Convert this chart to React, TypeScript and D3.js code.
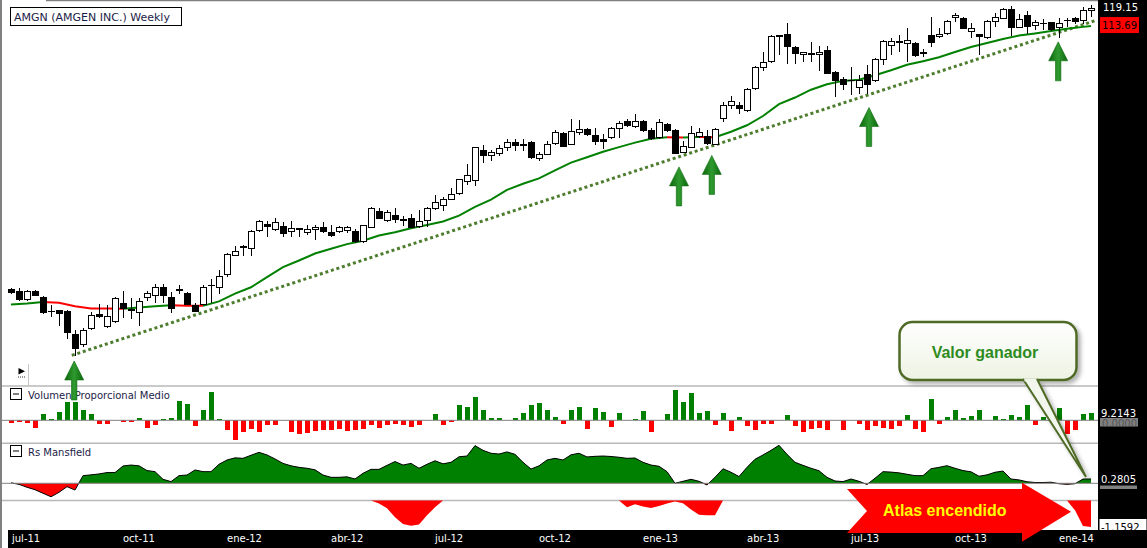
import React from 'react';
import * as d3 from 'd3';

// weekly candles, jul-11 .. ene-14
const opens = [
  57.1, 56.8, 55.6, 56.9, 56.0, 54.0, 54.1, 54.0, 50.8, 49.5,
  51.6, 53.5, 51.8, 52.5, 55.1, 54.2, 53.8, 56.0, 56.2, 57.5,
  56.0, 57.1, 56.6, 54.8, 55.0, 57.7, 57.5, 59.4, 62.5, 64.0,
  63.6, 66.6, 67.7, 66.8, 67.4, 66.5, 67.0, 66.3, 66.8, 67.2,
  66.3, 66.4, 66.7, 66.5, 64.7, 67.2, 70.1, 68.4, 69.3, 68.6,
  68.8, 67.3, 68.5, 70.6, 71.2, 72.3, 73.5, 75.8, 75.9, 82.1,
  81.1, 81.5, 82.8, 83.8, 83.3, 83.9, 80.4, 81.3, 83.6, 85.9,
  83.5, 86.1, 86.8, 85.4, 84.6, 84.9, 87.0, 88.5, 87.4, 88.7,
  86.6, 84.9, 87.9, 86.6, 81.7, 82.8, 85.3, 85.3, 83.5, 89.2,
  92.3, 92.4, 91.2, 96.6, 102.0, 103.6, 110.7, 111.2, 107.5, 105.6,
  105.6, 105.6, 106.7, 100.8, 98.9, 98.6, 96.9, 100.3, 98.6, 104.2,
  108.1, 109.1, 108.6, 108.6, 106.1, 110.8, 110.6, 111.5, 116.3, 116.0,
  112.0, 111.2, 110.3, 115.2, 116.1, 118.8, 113.4, 116.9, 113.8, 114.5,
  114.8, 113.3, 115.4, 116.0, 115.3, 118.5,
];
const highs = [
  57.4, 57.4, 57.1, 57.0, 56.2, 54.8, 54.2, 54.1, 51.4, 51.6,
  53.8, 55.0, 54.8, 56.0, 56.9, 55.9, 55.9, 56.9, 58.0, 58.0,
  56.8, 57.8, 56.8, 55.1, 57.8, 58.7, 60.1, 62.9, 64.0, 64.1,
  66.7, 68.5, 68.3, 68.8, 68.1, 68.3, 67.1, 67.7, 67.6, 68.1,
  67.6, 67.4, 67.4, 66.9, 67.7, 70.9, 70.7, 70.3, 70.6, 69.2,
  69.6, 70.3, 70.9, 73.1, 72.7, 74.4, 76.3, 79.2, 82.9, 83.3,
  82.2, 83.3, 84.6, 84.6, 84.6, 84.1, 81.9, 84.1, 86.6, 86.1,
  89.1, 88.9, 87.1, 87.1, 85.8, 87.4, 88.7, 89.1, 90.3, 88.9,
  87.1, 89.1, 88.3, 86.8, 84.2, 87.5, 87.1, 86.6, 87.0, 93.3,
  94.6, 93.3, 96.6, 102.4, 106.2, 111.2, 111.0, 114.6, 107.9, 106.3,
  109.1, 107.9, 107.9, 101.0, 99.4, 102.2, 100.0, 102.7, 104.5, 109.6,
  110.2, 111.0, 113.0, 109.1, 107.0, 116.3, 113.0, 115.5, 117.7, 116.5,
  114.7, 111.5, 115.5, 117.5, 119.1, 119.8, 117.3, 118.2, 115.5, 115.8,
  115.0, 116.0, 116.0, 116.5, 119.4, 120.1,
];
const lows = [
  56.5, 55.4, 55.5, 56.1, 53.6, 53.2, 51.9, 50.2, 48.0, 49.2,
  51.4, 53.0, 51.7, 52.3, 53.0, 52.9, 52.0, 55.5, 55.1, 55.1,
  53.7, 56.4, 54.9, 54.0, 54.9, 55.1, 56.5, 59.1, 62.4, 62.3,
  62.3, 66.4, 65.6, 66.5, 65.5, 65.6, 65.6, 65.9, 65.1, 66.3,
  65.5, 66.2, 66.3, 64.5, 64.5, 67.0, 68.6, 68.2, 68.0, 67.4,
  67.0, 67.1, 67.2, 70.3, 70.2, 72.2, 73.1, 75.0, 74.9, 79.4,
  79.9, 81.0, 82.1, 82.1, 82.1, 80.4, 79.9, 81.2, 83.4, 82.9,
  83.4, 85.6, 85.4, 83.3, 82.5, 84.7, 84.9, 87.4, 87.2, 86.1,
  84.4, 84.7, 86.2, 81.3, 81.5, 82.6, 84.8, 83.4, 83.3, 88.5,
  91.6, 90.3, 90.9, 96.2, 101.1, 103.1, 105.4, 103.0, 103.0, 103.5,
  103.5, 101.1, 100.3, 94.4, 96.2, 95.0, 95.3, 95.2, 98.3, 102.7,
  105.4, 106.3, 103.5, 104.9, 104.8, 107.5, 110.1, 111.0, 114.9, 112.9,
  110.3, 105.5, 110.0, 113.5, 115.9, 110.7, 113.2, 111.5, 112.5, 112.5,
  112.3, 110.1, 113.5, 114.4, 114.2, 116.5,
];
const closes = [
  56.7, 55.7, 56.9, 56.2, 53.8, 53.9, 53.6, 51.1, 49.0, 51.3,
  53.4, 53.3, 53.2, 55.8, 54.4, 54.1, 55.3, 56.5, 57.5, 56.2,
  54.3, 57.1, 55.0, 54.0, 57.4, 57.8, 59.1, 62.6, 63.1, 63.7,
  66.5, 68.3, 67.3, 68.1, 66.1, 67.0, 67.0, 66.8, 67.2, 66.5,
  65.7, 67.1, 67.2, 64.7, 67.5, 70.5, 68.8, 69.9, 68.6, 68.6,
  67.1, 68.2, 70.6, 71.7, 72.3, 73.2, 76.1, 76.9, 82.8, 81.1,
  81.7, 82.5, 83.9, 83.3, 83.4, 80.6, 81.3, 83.5, 86.1, 83.1,
  86.3, 86.8, 85.6, 84.2, 84.0, 87.1, 88.2, 87.6, 88.7, 86.5,
  84.7, 88.4, 86.5, 81.6, 82.9, 85.9, 86.2, 83.6, 86.7, 92.4,
  93.3, 91.6, 96.4, 102.0, 103.4, 110.7, 110.8, 107.7, 105.8, 106.2,
  105.7, 106.0, 100.5, 98.7, 97.6, 98.7, 98.7, 97.6, 104.2, 109.2,
  109.3, 109.2, 109.6, 105.2, 106.0, 108.9, 111.3, 115.1, 117.0, 113.1,
  112.9, 110.6, 115.0, 116.3, 118.8, 113.4, 115.8, 113.6, 114.8, 114.6,
  112.7, 114.5, 115.5, 115.0, 118.5, 119.15,
];

// moving average, read every second week (last point = last week)
const maValues = [
  54.95, 55.09, 55.31, 55.17, 54.67, 54.38, 54.35, 54.34, 54.52, 54.67,
  54.83, 54.76, 54.74, 55.38, 56.51, 57.46, 59.01, 60.58, 61.62, 62.76,
  63.54, 64.32, 64.88, 65.79, 66.35, 67.05, 67.61, 68.23, 69.3, 70.89,
  72.25, 74.1, 75.31, 76.38, 78.0, 79.58, 80.71, 81.88, 82.87, 83.85,
  84.7, 85.03, 84.95, 85.08, 85.03, 86.26, 87.74, 89.88, 92.73, 94.33,
  96.28, 97.67, 98.52, 98.82, 99.98, 101.3, 102.78, 103.73, 104.78, 106.24,
  107.62, 108.75, 109.89, 110.89, 111.53, 112.21, 112.9, 113.45, 113.69,
];

const volumeValues = [
  -2.9, -2.1, -2.9, -9.2, 8.5, 2.1, 10.5, 23.1, 23.1, 13.5,
  8.5, -4.2, -5.0, 0, -1.6, -1.6, 2.9, -9.2, -5.4, 1.6,
  2.9, 24.4, 21.1, -6.7, 13.5, 35.7, 1.6, -11.7, -24.9, -14.8,
  -10.5, -14.8, -5.4, -5.4, 0, -14.8, -17.7, -15.5, -13.5, -12.2,
  -12.2, -10.5, -13.5, -12.2, -10.5, -5.4, -9.2, -5.4, -4.2, -5.4,
  -8.0, -5.4, 0, 8.5, -5.4, -1.6, 19.3, 16.8, 29.4, 13.0,
  2.9, 2.9, 0, 2.9, 9.2, 19.3, 21.8, 13.0, 4.2, -4.2,
  13.0, 16.8, -10.5, 15.5, 10.5, -8.0, 9.2, 0, 1.6, 11.7,
  -14.3, 0, 8.0, 38.2, 23.1, 34.5, 9.2, 11.7, -5.4, 9.2,
  -13.0, 4.2, -6.7, -11.7, -4.2, -4.2, 0, 6.7, -6.7, -14.3,
  -10.5, -9.2, -11.7, 0, -11.7, 0, -4.2, -11.7, -6.7, -9.2,
  -10.5, -6.7, 6.7, -10.5, -14.3, 26.9, -4.2, 4.2, 13.0, 2.9,
  5.4, 13.0, 0, 5.4, 1.6, 6.7, 4.2, 19.3, -5.4, 4.2,
  9.2, 15.5, -17.7, -11.7, 8.0, 9.2143,
];

const mansfieldValues = [
  0.03, -0.07, -0.26, -0.42, -0.65, -0.88, -0.59, -0.22, -0.44, 0.5,
  0.55, 0.61, 0.7, 0.7, 1.13, 1.19, 1.14, 0.83, 0.76, 0.26,
  0.11, 0.5, 0.54, 0.87, 0.76, 0.76, 1.24, 1.52, 1.66, 1.63,
  1.83, 2.02, 1.85, 1.59, 1.3, 1.14, 1.04, 0.98, 0.88, 0.54,
  0.39, 0.39, 0.42, 0.28, 0.65, 0.91, 0.91, 1.17, 1.42, 1.19,
  1.3, 0.98, 1.24, 1.47, 1.27, 1.37, 1.73, 1.78, 2.46, 2.15,
  1.96, 1.91, 2.05, 1.89, 1.37, 0.93, 1.14, 1.52, 1.63, 1.52,
  1.86, 1.96, 1.72, 1.76, 1.78, 1.75, 1.7, 1.63, 1.65, 1.37,
  1.19, 1.11, 0.76, 0.0, 0.13, 0.26, 0.13, -0.11, 0.39, 0.95,
  0.72, 0.44, 1.04, 1.57, 1.85, 2.15, 2.48, 1.89, 1.37, 1.17,
  0.98, 0.82, 0.39, 0.15, 0.11, 0.28, 0.13, -0.08, 0.33, 0.76,
  0.73, 0.68, 0.59, 0.5, 0.5, 0.95, 1.04, 1.15, 0.98, 0.83,
  0.75, 0.46, 0.55, 0.72, 0.8, 0.28, 0.22, 0.1, 0.05, 0.05,
  0.07, -0.03, -0.07, -0.03, 0.28, 0.2805,
];

// lower (unnamed) panel, only negative values shown
const atlasValues = [
  0, 0, 0, 0, 0, 0, 0, 0, 0, 0,
  0, 0, 0, 0, 0, 0, 0, 0, 0, 0,
  0, 0, 0, 0, 0, 0, 0, 0, 0, 0,
  0, 0, 0, 0, 0, 0, 0, 0, 0, 0,
  0, 0, 0, 0, 0, 0, -0.13, -0.34, -0.73, -1.03,
  -1.1, -1.05, -0.64, -0.3, 0, 0, 0, 0, 0, 0,
  0, 0, 0, 0, 0, 0, 0, 0, 0, 0,
  0, 0, 0, 0, 0, 0, 0, -0.3, -0.16, -0.26,
  -0.33, -0.24, -0.13, -0.04, -0.12, -0.39, -0.62, -0.64, -0.64, 0,
  0, 0, 0, 0, 0, 0, 0, 0, 0, 0,
  0, 0, 0, 0, 0, 0, 0, 0, 0, 0,
  0, 0, 0, 0, 0, 0, 0, 0, 0, 0,
  0, 0, 0, 0, 0, 0, 0, 0, 0, 0,
  0, 0, 0, -0.43, -1.12, -1.1592,
];

const tickWeeks = [0, 14, 27, 40, 53, 66, 79, 92, 105, 118, 131];
const tickLabels = ['jul-11', 'oct-11', 'ene-12', 'abr-12', 'jul-12', 'oct-12', 'ene-13', 'abr-13', 'jul-13', 'oct-13', 'ene-14'];

// support line and the green arrows that mark touches
const trendWeeks = [7.6, 135.5];
const trendPrices = [48.1, 115.3];
const arrowWeeks = [7.9, 83.5, 87.6, 107.25, 130.9];
const arrowPrices = [47.4, 78.7, 81.1, 91.9, 109.1];

const FONT = 'DejaVu Sans, Verdana, sans-serif';
const BOLD = 'Liberation Sans, Arial, sans-serif';
const GREEN = '#008000';
const RED = '#ff0000';
const RIGHT = 1098;

export default function App() {
  const x = d3.scaleLinear().domain([0, 135]).range([11, 1091]);
  const yP = d3.scaleLog().domain([44.4, 121.7]).range([386, 0]);
  const yVol = d3.scaleLinear().domain([-30, 40]).range([444.1, 388.6]);
  const yMan = d3.scaleLinear().domain([-1, 2.5]).range([498.6, 445]);
  const yAtl = d3.scaleLinear().domain([-1.1592, 0]).range([527, 500.5]);

  const weeks = d3.range(closes.length);
  const maWeeks = [...d3.range(0, 135, 2), 135];

  // split the average into rising (green) and falling (red) runs
  const runs: { color: string; pts: [number, number][] }[] = [];
  for (let k = 0; k < maValues.length - 1; k++) {
    const color = maValues[k + 1] < maValues[k] ? RED : GREEN;
    const a: [number, number] = [x(maWeeks[k]), yP(maValues[k])];
    const b: [number, number] = [x(maWeeks[k + 1]), yP(maValues[k + 1])];
    const last = runs[runs.length - 1];
    if (last && last.color === color) last.pts.push(b);
    else runs.push({ color, pts: [a, b] });
  }
  const line = d3.line<[number, number]>();

  const manArea = d3.area<number>().x((_, i) => x(i)).y0(yMan(0)).y1((d) => yMan(d));
  const manLine = d3.line<number>().x((_, i) => x(i)).y((d) => yMan(d));
  const atlArea = d3.area<number>().x((_, i) => x(i)).y0(yAtl(0)).y1((d) => yAtl(d));

  const arrowPath = (tx: number, ty: number) => {
    const L = 39, hh = 19, hw = 9.5, sw = 2.7;
    return `M${tx},${ty}L${tx + hw},${ty + hh}L${tx + sw},${ty + hh}L${tx + sw},${ty + L}L${tx - sw},${ty + L}L${tx - sw},${ty + hh}L${tx - hw},${ty + hh}Z`;
  };

  return (
    <svg width={1147} height={548} style={{ display: 'block' }}>
      <style>{'body{margin:0;overflow:hidden}'}</style>
      <defs>
        <clipPath id="pricePlot"><rect x={0} y={0} width={RIGHT} height={386} /></clipPath>
        <clipPath id="manUp"><rect x={0} y={443} width={RIGHT} height={yMan(0) - 443} /></clipPath>
        <clipPath id="manDn"><rect x={0} y={yMan(0)} width={RIGHT} height={500 - yMan(0)} /></clipPath>
        <clipPath id="zeroBox"><rect x={1100} y={418} width={38} height={8.5} /></clipPath>
        <clipPath id="zeroBox2"><rect x={1100} y={485.5} width={37} height={3.5} /></clipPath>
        <linearGradient id="arrowGrad" x1="0" x2="1" y1="0" y2="0">
          <stop offset="0" stopColor="#0b650b" />
          <stop offset="0.5" stopColor="#2f9a2f" />
          <stop offset="1" stopColor="#0b650b" />
        </linearGradient>
        <linearGradient id="calloutGrad" x1="0" x2="0" y1="0" y2="1">
          <stop offset="0" stopColor="#ffffff" />
          <stop offset="1" stopColor="#edf3e3" />
        </linearGradient>
        <filter id="shadow" x="-10%" y="-10%" width="130%" height="140%">
          <feDropShadow dx="3" dy="3" stdDeviation="2" floodColor="#000" floodOpacity="0.3" />
        </filter>
      </defs>

      <rect x={0} y={0} width={1147} height={548} fill="#fff" />

      {/* price panel */}
      <g clipPath="url(#pricePlot)">
        <line
          x1={x(trendWeeks[0])} y1={yP(trendPrices[0])}
          x2={x(trendWeeks[1])} y2={yP(trendPrices[1])}
          stroke="#4e7d2e" strokeWidth={3} strokeDasharray="3 2.8"
        />
        {runs.map((r, k) => (
          <path key={k} d={line(r.pts) ?? ''} fill="none" stroke={r.color} strokeWidth={2} />
        ))}
        <g shapeRendering="crispEdges">
          {weeks.map((i) => {
            const o = opens[i], c = closes[i];
            const top = yP(Math.max(o, c));
            const bot = yP(Math.min(o, c));
            const cx = Math.round(x(i)) + 0.5;
            return (
              <g key={i}>
                <line x1={cx} x2={cx} y1={yP(highs[i])} y2={yP(lows[i])} stroke="#000" strokeWidth={1} />
                <rect
                  x={cx - 3} y={top} width={6} height={Math.max(0.6, bot - top)}
                  fill={c >= o ? '#fff' : '#000'} stroke="#000" strokeWidth={1}
                />
              </g>
            );
          })}
        </g>
      </g>

      {/* small play button */}
      <path d="M18.5,368L25,371.2L18.5,374.5Z" fill="#000" />
      <line x1={18} x2={25} y1={377} y2={377} stroke="#333" strokeDasharray="1 1" />
      <line x1={28.5} x2={28.5} y1={364} y2={386} stroke="#c8c8c8" />

      {/* panel separators */}
      <g stroke="#b8b8b8" strokeWidth={1.5}>
        <line x1={0} x2={RIGHT} y1={386} y2={386} />
        <line x1={0} x2={RIGHT} y1={443.3} y2={443.3} />
        <line x1={0} x2={RIGHT} y1={500.5} y2={500.5} />
      </g>

      {/* volume */}
      <g shapeRendering="crispEdges">
        {volumeValues.map((v, i) =>
          v === 0 ? null : (
            <rect
              key={i}
              x={Math.round(x(i)) - 2} width={5}
              y={Math.min(yVol(v), yVol(0))} height={Math.abs(yVol(v) - yVol(0))}
              fill={v > 0 ? GREEN : RED}
            />
          )
        )}
      </g>
      <line x1={0} x2={RIGHT} y1={yVol(0)} y2={yVol(0)} stroke="#808080" strokeWidth={1} />

      {/* Rs Mansfield */}
      <path d={manArea(mansfieldValues) ?? ''} fill={GREEN} clipPath="url(#manUp)" />
      <path d={manArea(mansfieldValues) ?? ''} fill={RED} clipPath="url(#manDn)" />
      <path d={manLine(mansfieldValues) ?? ''} fill="none" stroke="#000" strokeWidth={1} />
      <line x1={0} x2={RIGHT} y1={yMan(0)} y2={yMan(0)} stroke="#808080" strokeWidth={1} />

      {/* lower panel */}
      <path d={atlArea(atlasValues) ?? ''} fill={RED} />

      {/* panel titles */}
      <g fontFamily={FONT} fontSize={10} fill="#1c1c48">
        <rect x={10.5} y={388.5} width={11} height={11} fill="#fff" stroke="#000" />
        <line x1={13} x2={19} y1={394} y2={394} stroke="#000" />
        <text x={28} y={399}>Volumen Proporcional Medio</text>
        <rect x={10.5} y={445.5} width={11} height={11} fill="#fff" stroke="#000" />
        <line x1={13} x2={19} y1={451} y2={451} stroke="#000" />
        <text x={28} y={456}>Rs Mansfield</text>
      </g>

      {/* green arrows */}
      {arrowWeeks.map((w, k) => (
        <path key={k} d={arrowPath(x(w), yP(arrowPrices[k]))} fill="url(#arrowGrad)" stroke="#0d6a0d" strokeWidth={0.6} />
      ))}

      {/* right value axis */}
      <rect x={RIGHT} y={0} width={1147 - RIGHT} height={548} fill="#000" />
      <g fontFamily={FONT} fontSize={10}>
        <text x={1103} y={10.5} fill="#fff">{closes[closes.length - 1].toFixed(2)}</text>
        <rect x={1100} y={yP(113.69) - 9} width={39} height={16} fill={RED} />
        <text x={1102} y={yP(113.69) + 3} fill="#000">{maValues[maValues.length - 1].toFixed(2)}</text>

        <rect x={1100} y={418} width={38} height={8.5} fill="#808080" />
        <text x={1102} y={427} fill="#555" clipPath="url(#zeroBox)">0.0000</text>
        <text x={1101} y={yVol(9.2143) + 4} fill="#fff">9.2143</text>

        <rect x={1100} y={485.5} width={37} height={3.5} fill="#808080" />
        <text x={1101} y={yMan(0.2805) + 4} fill="#fff">0.2805</text>

        <rect x={1099.5} y={yAtl(-1.1592) - 8} width={47} height={16} fill="#fff" />
        <text x={1101} y={yAtl(-1.1592) + 4} fill="#000">-1.1592</text>
      </g>

      {/* time axis */}
      <rect x={8} y={530} width={1139} height={18} fill="#000" />
      <g fontFamily={FONT} fontSize={10} fill="#fff">
        {tickWeeks.map((w, k) => (
          <text key={k} x={Math.max(12, x(w))} y={542}>{tickLabels[k]}</text>
        ))}
      </g>

      {/* red arrow */}
      <path d="M847,489L1022,489L1022,482.7L1071,511.7L1022,541.7L1022,533L847,533L867,511Z" fill={RED} />
      <text x={883} y={516} fontFamily={BOLD} fontWeight="bold" fontSize={16} fill="#ffff00">Atlas encendido</text>

      {/* callout */}
      <g filter="url(#shadow)">
        <rect x={899.5} y={322} width={177} height={58} rx={13} fill="url(#calloutGrad)" stroke="#4f6b26" strokeWidth={2.5} />
        <path d="M1023,379L1086,477L1037,379" fill="#f2f6ec" stroke="#4f6b26" strokeWidth={2} />
        <line x1={1024.5} x2={1035.5} y1={380} y2={380} stroke="#f0f5e9" strokeWidth={3} />
      </g>
      <text x={985} y={358} textAnchor="middle" fontFamily={BOLD} fontWeight="bold" fontSize={16} fill="#2e8b22">Valor ganador</text>

      {/* title */}
      <rect x={10.5} y={7.5} width={171} height={18} fill="#fff" stroke="#000" />
      <text x={14} y={21} fontFamily={FONT} fontSize={11} fill="#1c1c48">AMGN (AMGEN INC.) Weekly</text>

      {/* frame */}
      <line x1={1} x2={1} y1={0} y2={548} stroke="#808080" strokeWidth={2} />
      <line x1={46} x2={RIGHT} y1={0.5} y2={0.5} stroke="#808080" strokeWidth={1.5} />
    </svg>
  );
}
